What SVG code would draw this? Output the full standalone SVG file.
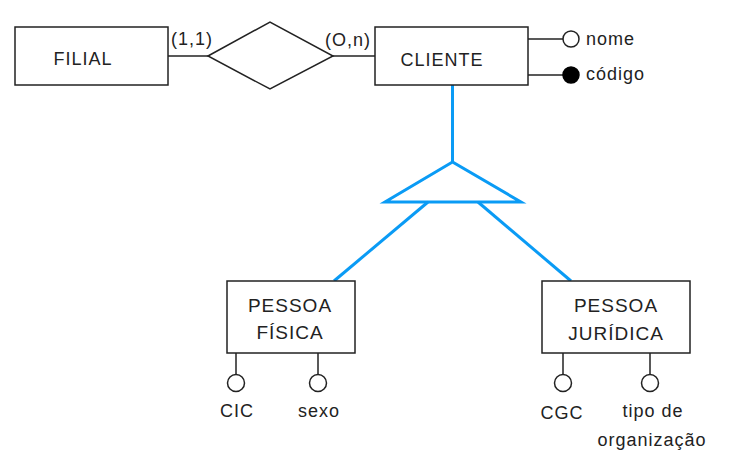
<svg xmlns="http://www.w3.org/2000/svg" width="745" height="464" viewBox="0 0 745 464">
<style>
.box{fill:#fff;stroke:#222;stroke-width:1.5}
.ln{stroke:#222;stroke-width:1.5;fill:none}
.att{fill:#fff;stroke:#222;stroke-width:1.5}
.key{fill:#000;stroke:#000;stroke-width:1.5}
.isa{stroke:#0a9bf5;stroke-width:3;fill:none}
text{font-family:"Liberation Sans","DejaVu Sans",sans-serif;fill:#222;font-size:18px;letter-spacing:1px}
.c{text-anchor:middle}
.big{font-size:19px}
</style>
<rect width="745" height="464" fill="#fff"/>
<g id="connectors">
<line class="ln" x1="168" y1="56" x2="208" y2="56"/>
<line class="ln" x1="333" y1="56" x2="375" y2="56"/>
<line class="ln" x1="528" y1="39" x2="563" y2="39"/>
<line class="ln" x1="528" y1="75" x2="563" y2="75"/>
<line class="ln" x1="236" y1="353" x2="236" y2="374"/>
<line class="ln" x1="318" y1="353" x2="318" y2="374"/>
<line class="ln" x1="563" y1="353" x2="563" y2="374"/>
<line class="ln" x1="650" y1="353" x2="650" y2="374"/>
<line class="isa" x1="452.5" y1="85" x2="452.5" y2="162"/>
<line class="isa" x1="428" y1="202" x2="334" y2="281"/>
<line class="isa" x1="478" y1="202" x2="571" y2="281"/>
<text x="192" y="45" class="c">(1,1)</text>
<text x="348" y="46" class="c">(O,n)</text>
</g>
<g id="filial">
<rect class="box" x="15" y="27" width="153" height="58"/>
<text x="83" y="65" class="c">FILIAL</text>
</g>
<g id="relacionamento">
<polygon class="box" points="208,56 270,22 333,56 270,89"/>
</g>
<g id="cliente">
<rect class="box" x="375" y="27" width="153" height="58"/>
<text x="442" y="66" class="c">CLIENTE</text>
</g>
<g id="attr-nome">
<circle class="att" cx="571" cy="39" r="8"/>
<text x="586" y="45">nome</text>
</g>
<g id="attr-codigo">
<circle class="key" cx="571" cy="75" r="8"/>
<text x="586" y="80">código</text>
</g>
<g id="especializacao">
<polygon class="isa" points="452.5,162 385,202 521,202"/>
</g>
<g id="pessoa-fisica">
<rect class="box" x="227" y="281" width="128" height="72"/>
<text x="290" y="312" class="c big">PESSOA</text>
<text x="290" y="339" class="c big">FÍSICA</text>
</g>
<g id="attr-cic">
<circle class="att" cx="236" cy="383" r="8.5"/>
<text x="237" y="417" class="c">CIC</text>
</g>
<g id="attr-sexo">
<circle class="att" cx="318" cy="383" r="8.5"/>
<text x="319" y="417" class="c">sexo</text>
</g>
<g id="pessoa-juridica">
<rect class="box" x="542" y="281" width="148" height="72"/>
<text x="616" y="312" class="c big">PESSOA</text>
<text x="616" y="340" class="c big">JURÍDICA</text>
</g>
<g id="attr-cgc">
<circle class="att" cx="563" cy="383" r="8.5"/>
<text x="562" y="419" class="c">CGC</text>
</g>
<g id="attr-tipo">
<circle class="att" cx="650" cy="383" r="8.5"/>
<text x="653" y="417" class="c">tipo de</text>
<text x="652" y="446" class="c">organização</text>
</g>
</svg>
